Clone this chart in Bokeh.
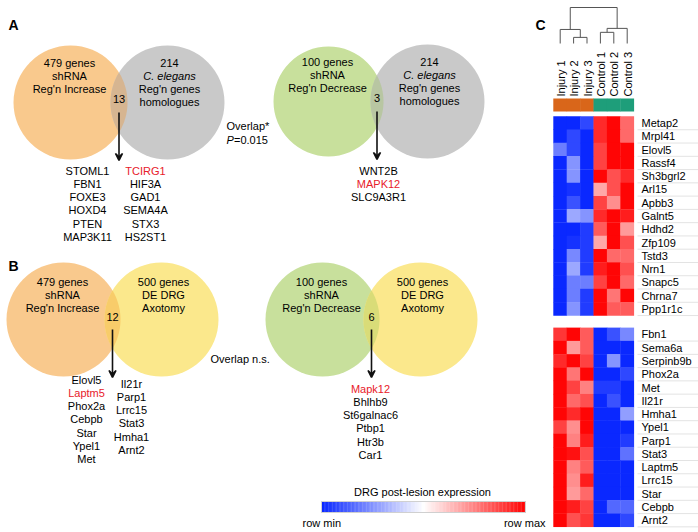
import numpy as np
from bokeh.plotting import figure
from bokeh.models import Range1d, Arrow, VeeHead, LinearColorMapper, ColumnDataSource
from bokeh.transform import transform
from bokeh.core.properties import value
from bokeh.embed import file_html
from bokeh.resources import INLINE

FONT = "Liberation Sans"

# ---------------- data ----------------
venn_left_labels = [
    ["479 genes", "shRNA", "Reg'n Increase"],
    ["100 genes", "shRNA", "Reg'n Decrease"],
    ["479 genes", "shRNA", "Reg'n Increase"],
    ["100 genes", "shRNA", "Reg'n Decrease"],
]
venn_right_labels = [
    ["214", "C. elegans", "Reg'n genes", "homologues"],
    ["214", "C. elegans", "Reg'n genes", "homologues"],
    ["500 genes", "DE DRG", "Axotomy"],
    ["500 genes", "DE DRG", "Axotomy"],
]
overlap_counts = [13, 3, 12, 6]

genes_A1_col1 = ["STOML1", "FBN1", "FOXE3", "HOXD4", "PTEN", "MAP3K11"]
genes_A1_col2 = ["TCIRG1", "HIF3A", "GAD1", "SEMA4A", "STX3", "HS2ST1"]
genes_A2 = ["WNT2B", "MAPK12", "SLC9A3R1"]
genes_B1_col1 = ["Elovl5", "Laptm5", "Phox2a", "Cebpb", "Star", "Ypel1", "Met"]
genes_B1_col2 = ["Il21r", "Parp1", "Lrrc15", "Stat3", "Hmha1", "Arnt2"]
genes_B2 = ["Mapk12", "Bhlhb9", "St6galnac6", "Ptbp1", "Htr3b", "Car1"]
highlighted = ["TCIRG1", "MAPK12", "Laptm5", "Mapk12"]

samples = ["Injury 1", "Injury 2", "Injury 3", "Control 1", "Control 2", "Control 3"]
groups = ["Injury", "Injury", "Injury", "Control", "Control", "Control"]

genes_up = ["Metap2", "Mrpl41", "Elovl5", "Rassf4", "Sh3bgrl2", "Arl15", "Apbb3",
            "Galnt5", "Hdhd2", "Zfp109", "Tstd3", "Nrn1", "Snapc5", "Chrna7", "Ppp1r1c"]
vals_up = [
    [-1.00, -1.00, -0.85, 0.85, 1.00, 0.60],
    [-1.00, -0.85, -1.00, 0.85, 1.00, 0.60],
    [-0.60, -0.85, -1.00, 0.75, 1.00, 1.00],
    [-1.00, -0.50, -1.00, 0.75, 1.00, 1.00],
    [-1.00, -0.50, -1.00, 1.00, 0.70, 0.85],
    [-1.00, -0.95, -1.00, 0.35, 0.70, 1.00],
    [-1.00, -0.80, -1.00, 0.75, 0.45, 1.00],
    [-1.00, -0.40, -0.50, 0.85, 1.00, 0.90],
    [-1.00, -1.00, -0.90, 0.65, 1.00, 0.40],
    [-1.00, -0.95, -0.90, 0.35, 1.00, 0.70],
    [-1.00, -0.55, -0.90, 1.00, 0.60, 0.60],
    [-1.00, -0.40, -0.90, 0.90, 1.00, 0.70],
    [-1.00, -0.60, -0.60, 0.75, 1.00, 0.60],
    [-1.00, -0.60, -0.90, 1.00, 0.55, 1.00],
    [-1.00, -0.50, -0.90, 1.00, 0.65, 0.65],
]
genes_down = ["Fbn1", "Sema6a", "Serpinb9b", "Phox2a", "Met", "Il21r", "Hmha1",
              "Ypel1", "Parp1", "Stat3", "Laptm5", "Lrrc15", "Star", "Cebpb", "Arnt2"]
vals_down = [
    [0.80, 1.00, 0.65, -1.00, -0.80, -0.55],
    [1.00, 0.40, 0.65, -1.00, -1.00, -1.00],
    [0.85, 1.00, 0.75, -1.00, -0.50, -1.00],
    [1.00, 0.55, 1.00, -1.00, -1.00, -0.85],
    [1.00, 0.75, 0.50, -0.90, -0.90, -1.00],
    [1.00, 0.60, 0.70, -1.00, -0.80, -1.00],
    [1.00, 0.85, 1.00, -1.00, -1.00, -0.45],
    [0.75, 0.45, 1.00, -1.00, -1.00, -1.00],
    [1.00, 0.50, 0.90, -1.00, -1.00, -0.90],
    [1.00, 0.95, 0.70, -1.00, -1.00, -0.65],
    [1.00, 0.50, 0.65, -1.00, -1.00, -1.00],
    [1.00, 0.45, 0.90, -1.00, -1.00, -1.00],
    [1.00, 0.40, 0.60, -1.00, -1.00, -1.00],
    [1.00, 0.90, 0.75, -1.00, -0.70, -0.70],
    [1.00, 0.70, 0.80, -1.00, -1.00, -0.85],
]
# hierarchical clustering merges (left id, right id, height); leaves 0..5
linkage = [(1, 2, 0.17), (3, 4, 0.31), (0, 6, 0.39), (7, 5, 0.42), (8, 9, 1.00)]

# ---------------- figure ----------------
p = figure(width=698, height=532, output_backend="svg", toolbar_location=None,
           x_range=Range1d(0, 698), y_range=Range1d(532, 0),
           min_border=0, outline_line_color=None)
p.axis.visible = False
p.grid.visible = False

def txt(x, y, t, size="11px", color="#000000", align="center", style="normal", angle=0, baseline="middle"):
    p.text(x=[x], y=[y], text=[t], text_font=value(FONT), text_font_size=size,
           text_color=color, text_align=align, text_baseline=baseline,
           text_font_style=style, angle=angle)

def lens(c1, r1, c2, r2, y, n=60):
    d = c2 - c1
    a = (d * d + r1 * r1 - r2 * r2) / (2 * d)
    h = np.sqrt(r1 * r1 - a * a)
    t1 = np.arctan2(h, a)
    t2 = np.arctan2(h, d - a)
    ang1 = np.linspace(-t1, t1, n)
    ang2 = np.linspace(np.pi - t2, np.pi + t2, n)
    xs = np.concatenate([c1 + r1 * np.cos(ang1), c2 + r2 * np.cos(ang2)])
    ys = np.concatenate([y + r1 * np.sin(ang1), y + r2 * np.sin(ang2)])
    return xs, ys

ORANGE = "#F9C98D"
GRAY = "#C9C9C9"
GREEN = "#C8E09C"
YELLOW = "#FBE88C"
OV = {("o", "g"): "#D6B591", ("g", "g"): "#B8C6A2", ("o", "y"): "#F8CC6A", ("g", "y"): "#D9DC78"}
cols = {"o": ORANGE, "g": GREEN, "y": YELLOW, "gr": GRAY}

venns = [
    # (cx_left, r_left, col_left, cx_right, r_right, col_right, cy, overlap key)
    (70, 57, "o", 167, 57, "gr", 102, ("o", "g")),
    (328, 55, "g", 427, 57, "gr", 101, ("g", "g")),
    (63, 57, "o", 161, 57, "y", 319, ("o", "y")),
    (322, 57, "g", 420, 57, "y", 319, ("g", "y")),
]
for k, (cl, rl, kl, cr, rr, kr, cy, ok) in enumerate(venns):
    p.circle(x=[cl], y=[cy], radius=rl, fill_color=cols[kl], line_color=None)
    p.circle(x=[cr], y=[cy], radius=rr, fill_color=cols[kr], line_color=None)
    xs, ys = lens(cl, rl, cr, rr, cy)
    p.patch(xs, ys, fill_color=OV[ok], line_color=None)
    ly0 = cy - 40 if cy < 200 else cy - 38
    for i, t in enumerate(venn_left_labels[k]):
        txt(cl - 1, ly0 + 13.3 * i, t)
    for i, t in enumerate(venn_right_labels[k]):
        txt(cr + 2, ly0 + 13.3 * i, t, style="italic" if t == "C. elegans" else "normal")
    ax = (cl + rl + cr - rr) / 2.0
    txt(ax, cy - 4 if cy < 200 else cy - 3, str(overlap_counts[k]))
    p.add_layout(Arrow(end=VeeHead(size=7, line_width=1.6, line_color="#111111", fill_color="#111111"),
                       x_start=ax, y_start=cy + 10, x_end=ax, y_end=cy + 58,
                       line_width=1.6, line_color="#111111"))

def gene_col(x, y0, genes):
    for i, g in enumerate(genes):
        txt(x, y0 + 13.3 * i, g, color="#E8202A" if g in highlighted else "#000000")

gene_col(87, 170, genes_A1_col1)
gene_col(145, 170, genes_A1_col2)
gene_col(378, 170, genes_A2)
gene_col(86, 379, genes_B1_col1)
gene_col(131, 383, genes_B1_col2)
gene_col(370, 388, genes_B2)

txt(226, 125, "Overlap*", align="left")
txt(226, 139, "P", align="left", style="italic")
txt(233.5, 139, "=0.015", align="left")
txt(210, 358, "Overlap n.s.", align="left")

# panel letters
txt(13, 24, "A", size="14px", style="bold")
txt(13, 265, "B", size="14px", style="bold")
txt(540, 24, "C", size="14px", style="bold")

# ---------------- heatmap ----------------
def hexc(r, g, b):
    return "#%02x%02x%02x" % (int(round(r)), int(round(g)), int(round(b)))

BLUE = np.array([10, 40, 255.0])
RED = np.array([255, 5, 5.0])
WHITE = np.array([255, 255, 255.0])
palette = []
for t in np.linspace(0, 1, 256):
    if t < 0.5:
        c = BLUE + (WHITE - BLUE) * (t / 0.5)
    else:
        c = WHITE + (RED - WHITE) * ((t - 0.5) / 0.5)
    palette.append(hexc(*c))
mapper = LinearColorMapper(palette=palette, low=-1, high=1)

HX0, CW = 553.0, 13.4
CH = 13.27
blocks = [(116.0, genes_up, vals_up), (327.3, genes_down, vals_down)]
for y0, genes, vals in blocks:
    xs, ys, vs = [], [], []
    for i, row in enumerate(vals):
        for j, v in enumerate(row):
            xs.append(HX0 + CW * (j + 0.5))
            ys.append(y0 + CH * (i + 0.5))
            vs.append(v)
    src = ColumnDataSource(dict(x=xs, y=ys, v=vs))
    p.rect(x="x", y="y", width=CW + 0.4, height=CH + 0.4, source=src,
           fill_color=transform("v", mapper), line_color=None)
    # separator lines + labels
    sep_y = [y0 + CH * (i + 1) for i in range(len(genes))]
    p.segment(x0=[637] * len(sep_y), y0=sep_y, x1=[698] * len(sep_y), y1=sep_y,
              line_color="#E3E3E3", line_width=1)
    for i, g in enumerate(genes):
        txt(641, y0 + CH * (i + 0.5), g, align="left")

# group colour strip
grp_col = {"Injury": "#D9661A", "Control": "#1E9E7A"}
for j, g in enumerate(groups):
    p.rect(x=[HX0 + CW * (j + 0.5)], y=[104.5], width=CW + 0.4, height=13,
           fill_color=grp_col[g], line_color=None)

# sample labels (rotated)
for j, s in enumerate(samples):
    txt(HX0 + CW * (j + 0.5) + 0.5, 96, s, align="left", angle=np.pi / 2)

# dendrogram
Y_LEAF, Y_TOP = 43.0, 7.0
def hy(h):
    return Y_LEAF - h * (Y_LEAF - Y_TOP)
pos = {j: (HX0 + CW * (j + 0.5), 0.0) for j in range(6)}
seg = dict(x0=[], y0=[], x1=[], y1=[])
nid = 6
for a, b, h in linkage:
    xa, ha = pos[a]
    xb, hb = pos[b]
    for (x, hh) in [(xa, ha), (xb, hb)]:
        seg["x0"].append(x); seg["y0"].append(hy(hh)); seg["x1"].append(x); seg["y1"].append(hy(h))
    seg["x0"].append(xa); seg["y0"].append(hy(h)); seg["x1"].append(xb); seg["y1"].append(hy(h))
    pos[nid] = ((xa + xb) / 2.0, h)
    nid += 1
p.segment(x0="x0", y0="y0", x1="x1", y1="y1", source=ColumnDataSource(seg),
          line_color="#555555", line_width=1)

# ---------------- colour bar ----------------
CB_X0, CB_X1, CB_Y0, CB_Y1 = 321.0, 525.0, 501.0, 512.0
n = 150
edges = np.linspace(CB_X0, CB_X1, n + 1)
cvals = np.linspace(-1, 1, n)
cb_src = ColumnDataSource(dict(left=edges[:-1], right=edges[1:] + 0.3, v=cvals))
p.quad(left="left", right="right", bottom=CB_Y1, top=CB_Y0, source=cb_src,
       fill_color=transform("v", mapper), line_color=None)
p.quad(left=[CB_X0], right=[CB_X1], bottom=[CB_Y1], top=[CB_Y0], fill_color=None,
       line_color="#D0D0D0", line_width=1)
txt(422, 491, "DRG post-lesion expression")
txt(302, 522, "row min", align="left")
txt(545, 522, "row max", align="right")

open("out.html", "w").write(file_html(p, INLINE))
